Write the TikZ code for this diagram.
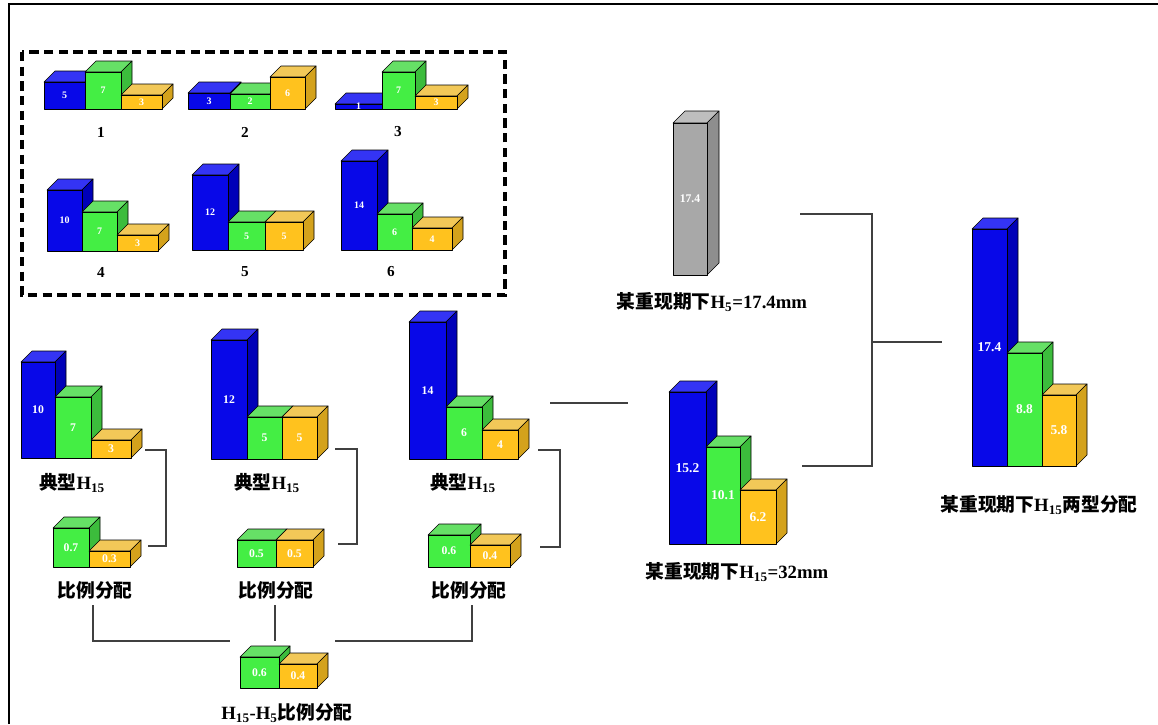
\documentclass[tikz,border=0pt]{standalone}
\usepackage{fontspec}
\setmainfont{Liberation Serif}
\newfontfamily\cjk{Noto Sans CJK SC}
\usetikzlibrary{positioning}

\definecolor{bfront}{HTML}{0808E8}
\definecolor{btop}{HTML}{3434F4}
\definecolor{bside}{HTML}{0000B8}
\definecolor{gfront}{HTML}{44EE44}
\definecolor{gtop}{HTML}{66E066}
\definecolor{gside}{HTML}{3CBC3C}
\definecolor{yfront}{HTML}{FFC21E}
\definecolor{ytop}{HTML}{F2C858}
\definecolor{yside}{HTML}{D4A21C}
\definecolor{kfront}{HTML}{A8A8A8}
\definecolor{ktop}{HTML}{BEBEBE}
\definecolor{kside}{HTML}{8E8E8E}

% depth of the 3d boxes (px)
\newcommand\dep{11}
% \cuboid[value style]{name}{colour}{left}{right}{top}{bottom}{value}
\newcommand\cuboid[8][]{%
  \filldraw[facet, fill=#3top] (#4,#6) -- ++(\dep,-\dep) -- ({#5+\dep},{#6-\dep}) -- (#5,#6) -- cycle;
  \filldraw[facet, fill=#3side] (#5,#6) -- ++(\dep,-\dep) -- ({#5+\dep},{#7-\dep}) -- (#5,#7) -- cycle;
  \filldraw[facet, fill=#3front] (#4,#6) rectangle (#5,#7);
  \node[val, #1] (#2) at ({(#4+#5)/2},{(#6+#7)/2}) {#8};
}
\newcommand\hh[1]{H\textsubscript{#1}}

\begin{document}
\begin{tikzpicture}[
    x=0.03cm, y=-0.03cm,
    facet/.style={draw=black, line width=0.5pt, line join=round},
    val/.style={text=white, font=\fontsize{8.5}{9}\selectfont\bfseries, inner sep=0pt},
    valm/.style={font=\fontsize{10}{11}\selectfont\bfseries},
    vall/.style={font=\fontsize{11.5}{12}\selectfont\bfseries},
    lab/.style={font=\fontsize{16}{18}\selectfont\bfseries, inner sep=1pt},
    num/.style={font=\fontsize{13}{15}\selectfont\bfseries, inner sep=1pt},
    link/.style={draw=black!75, line width=1.6pt},
    frame/.style={draw=black, line width=2pt}
]
    \useasboundingbox (0,0) rectangle (1158,724);
    \draw[frame] (9,724) -- (9,4) -- (1158,4);

    % six patterns
    \draw[line width=2.6pt, dash pattern=on 8pt off 4.5pt] (22,52) rectangle (505,295);
    \cuboid{a1b}{b}{44}{85}{82}{109}{5}
    \cuboid{a1g}{g}{85}{121}{72}{109}{7}
    \cuboid{a1y}{y}{121}{162}{95}{109}{3}
    \cuboid{a2b}{b}{188}{230}{93}{109}{3}
    \cuboid{a2g}{g}{230}{270}{94}{109}{2}
    \cuboid{a2y}{y}{270}{305}{77}{109}{6}
    \cuboid{a3b}{b}{335}{382}{104}{109}{1}
    \cuboid{a3g}{g}{382}{415}{72}{109}{7}
    \cuboid{a3y}{y}{415}{457}{96}{109}{3}
    \cuboid{a4b}{b}{47}{82}{190}{251}{10}
    \cuboid{a4g}{g}{82}{117}{212}{251}{7}
    \cuboid{a4y}{y}{117}{158}{235}{251}{3}
    \cuboid{a5b}{b}{192}{228}{175}{250}{12}
    \cuboid{a5g}{g}{228}{265}{222}{250}{5}
    \cuboid{a5y}{y}{265}{303}{222}{250}{5}
    \cuboid{a6b}{b}{341}{377}{161}{250}{14}
    \cuboid{a6g}{g}{377}{412}{214}{250}{6}
    \cuboid{a6y}{y}{412}{452}{228}{250}{4}
    \node[num] (n1) at (101,132) {1};
    \node[num] (n2) at (245,132) {2};
    \node[num] (n3) at (398,132) {3};
    \node[num] (n4) at (101,272) {4};
    \node[num] (n5) at (245,272) {5};
    \node[num] (n6) at (391,272) {6};

    % typical H15
    \cuboid[valm]{t1b}{b}{21}{55}{362}{458}{10}
    \cuboid[valm]{t1g}{g}{55}{91}{397}{458}{7}
    \cuboid[valm]{t1y}{y}{91}{131}{440}{458}{3}
    \cuboid[valm]{t2b}{b}{211}{247}{340}{459}{12}
    \cuboid[valm]{t2g}{g}{247}{282}{417}{459}{5}
    \cuboid[valm]{t2y}{y}{282}{317}{417}{459}{5}
    \cuboid[valm]{t3b}{b}{409}{446}{322}{459}{14}
    \cuboid[valm]{t3g}{g}{446}{482}{407}{459}{6}
    \cuboid[valm]{t3y}{y}{482}{518}{430}{459}{4}
    \node[lab] (tl1) at (72,483) {{\cjk 典型}\hh{15}};
    \node[lab] (tl2) at (267,483) {{\cjk 典型}\hh{15}};
    \node[lab] (tl3) at (463,483) {{\cjk 典型}\hh{15}};

    % ratios
    \cuboid[valm]{r1g}{g}{53}{89}{528}{567}{0.7}
    \cuboid[valm]{r1y}{y}{89}{130}{551}{567}{0.3}
    \cuboid[valm]{r2g}{g}{237}{276}{540}{567}{0.5}
    \cuboid[valm]{r2y}{y}{276}{313}{540}{567}{0.5}
    \cuboid[valm]{r3g}{g}{428}{470}{535}{567}{0.6}
    \cuboid[valm]{r3y}{y}{470}{510}{545}{567}{0.4}
    \node[lab] (rl1) at (95,590) {\cjk 比例分配};
    \node[lab] (rl2) at (276,590) {\cjk 比例分配};
    \node[lab] (rl3) at (469,590) {\cjk 比例分配};

    % mean ratio
    \cuboid[valm]{sg}{g}{240}{279}{657}{688}{0.6}
    \cuboid[valm]{sy}{y}{279}{317}{664}{688}{0.4}
    \node[lab] (sl) at (287,713) {\hh{15}-\hh{5}{\cjk 比例分配}};

    % H5 and H15 of the return period
    \renewcommand\dep{12}
    \cuboid[valm]{h5}{k}{673}{707}{123}{275}{17.4}
    \renewcommand\dep{11}
    \node[lab] (h5l) at (712,302) {{\cjk 某重现期下}\hh{5}=17.4mm};
    \cuboid[vall]{mb}{b}{669}{706}{392}{544}{15.2}
    \cuboid[vall]{mg}{g}{706}{740}{447}{544}{10.1}
    \cuboid[vall]{my}{y}{740}{776}{490}{544}{6.2}
    \node[lab] (ml) at (737,572) {{\cjk 某重现期下}\hh{15}=32mm};

    % result
    \cuboid[vall]{fb}{b}{972}{1007}{229}{466}{17.4}
    \cuboid[vall]{fg}{g}{1007}{1042}{353}{466}{8.8}
    \cuboid[vall]{fy}{y}{1042}{1076}{395}{466}{5.8}
    \node[lab] (fl) at (1039,505) {{\cjk 某重现期下}\hh{15}{\cjk 两型分配}};

    % connectors
    \coordinate (k1a) at (145,450);
    \coordinate (k1b) at (148,546);
    \coordinate (k2a) at (335,449);
    \coordinate (k2b) at (338,544);
    \coordinate (k3a) at (538,450);
    \coordinate (k3b) at (540,547);
    \draw[link] (k1a) -- ++(21,0) |- (k1b);
    \draw[link] (k2a) -- ++(22,0) |- (k2b);
    \draw[link] (k3a) -- ++(22,0) |- (k3b);
    \coordinate (ta) at (550,403);
    \coordinate (tb) at (628,403);
    \draw[link] (ta) -- (tb);
    \coordinate (ha) at (800,214);
    \coordinate (hb) at (802,466);
    \coordinate (jn) at (872,342);
    \coordinate (fa) at (942,342);
    \draw[link] (ha) -| (jn) |- (hb);
    \draw[link] (jn) -- (fa);
    \coordinate (b1) at (93,605);
    \coordinate (b1e) at (230,641);
    \coordinate (b2) at (275,605);
    \coordinate (b2e) at (275,641);
    \coordinate (b3) at (472,605);
    \coordinate (b3e) at (335,641);
    \draw[link] (b1) |- (b1e);
    \draw[link] (b2) -- (b2e);
    \draw[link] (b3) |- (b3e);
\end{tikzpicture}
\end{document}
